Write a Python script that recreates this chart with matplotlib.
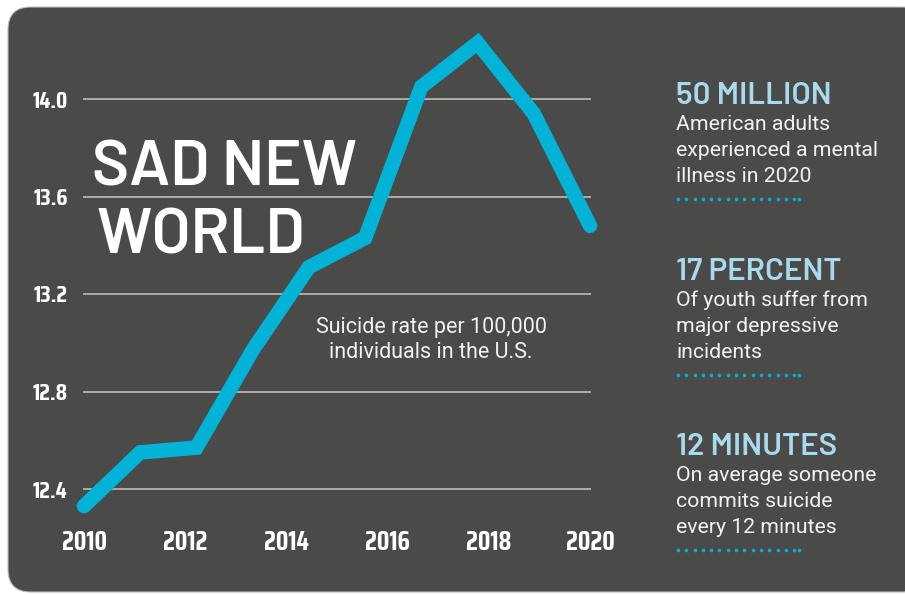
import matplotlib
matplotlib.use("Agg")
import matplotlib.pyplot as plt
import numpy as np
from matplotlib import font_manager
from matplotlib.patches import FancyBboxPatch

# ---------------- data ----------------
years = [2010, 2011, 2012, 2013, 2014, 2015, 2016, 2017, 2018, 2019]
rates = [12.33, 12.55, 12.57, 12.97, 13.31, 13.43, 14.05, 14.23, 13.94, 13.48]
xtick_labels = ["2010", "2012", "2014", "2016", "2018", "2020"]
ytick_values = [12.4, 12.8, 13.2, 13.6, 14.0]
title_lines = ["SAD NEW", "WORLD"]
annotation = ["Suicide rate per 100,000", "individuals in the U.S."]
stat_heads = ["50 MILLION", "17 PERCENT", "12 MINUTES"]
stat_bodies = [
    ["American adults", "experienced a mental", "illness in 2020"],
    ["Of youth suffer from", "major depressive", "incidents"],
    ["On average someone", "commits suicide", "every 12 minutes"],
]

# ---------------- fonts ----------------
available = {f.name for f in font_manager.fontManager.ttflist}
def pick(*names):
    for n in names:
        if n in available:
            return n
    return "DejaVu Sans"
TICKF = pick("Saira Extra Condensed", "Saira Condensed", "Barlow Condensed", "DejaVu Sans")
TITLEF = pick("Barlow", "Barlow Semi Condensed", "Barlow Condensed")
HEADF = pick("Barlow", "Barlow Semi Condensed", "Barlow Condensed")
BODY = pick("Roboto", "Inter", "DejaVu Sans")

W, H = 905, 595
BG = "#4a4a48"
CYAN = "#00b3d7"
LIGHTBLUE = "#a8d9ec"
TXT = "#f2f2f2"

fig = plt.figure(figsize=(W / 100, H / 100), dpi=100)
fig.patch.set_facecolor("white")

def fx(x):
    return x / W
def fy(y):
    return 1 - y / H

# background panel
panel = FancyBboxPatch((fx(8), fy(592)), fx(905 + 20) - fx(8), fy(7) - fy(592),
                       boxstyle="round,pad=0,rounding_size=0.025",
                       transform=fig.transFigure, facecolor=BG,
                       edgecolor="#bdbdbd", linewidth=0.8, zorder=0,
                       mutation_aspect=W / H)
fig.add_artist(panel)

# axes: x index 0..9 spans px 84..590; y 14.0 at px 99, 12.4 at px 489
ppu = (489 - 99) / 1.6
ylo, yhi = 12.3, 14.3
top_px = 99 - (yhi - 14.0) * ppu
bot_px = 489 + (12.4 - ylo) * ppu
dx = 9 / (590 - 84)
ax = fig.add_axes([fx(83), fy(bot_px), (591 - 83) / W, (bot_px - top_px) / H])
ax.set_facecolor("none")
ax.set_xlim(-dx, 9 + dx)
ax.set_ylim(ylo, yhi)
for s in ax.spines.values():
    s.set_visible(False)

for v in ytick_values:
    ax.axhline(v, color="#b4b4b4", linewidth=1.3, zorder=1)

xi = np.arange(len(years))
ax.plot(xi, rates, color=CYAN, linewidth=10.5, solid_capstyle="round",
        solid_joinstyle="miter", zorder=3, clip_on=False)

ax.set_yticks(ytick_values)
ax.set_yticklabels([f"{v:.1f}" for v in ytick_values])
ax.set_xticks(np.linspace(0, 9, len(xtick_labels)))
ax.set_xticklabels(xtick_labels)
ax.tick_params(axis="both", length=0, colors="white")
ax.tick_params(axis="y", pad=11)
ax.tick_params(axis="x", pad=12)
for lab in ax.get_yticklabels():
    lab.set_fontfamily(TICKF)
    lab.set_fontweight("bold")
    lab.set_fontsize(17)
for lab in ax.get_xticklabels():
    lab.set_fontfamily(TICKF)
    lab.set_fontweight("bold")
    lab.set_fontsize(19)

# title
fig.text(fx(92), fy(185), title_lines[0], family=TITLEF, weight="semibold",
         fontsize=45.5, color="white", va="baseline", ha="left", zorder=5)
fig.text(fx(96), fy(253), title_lines[1], family=TITLEF, weight="semibold",
         fontsize=45.5, color="white", va="baseline", ha="left", zorder=5)

# annotation
fig.text(fx(431), fy(333), annotation[0], family=BODY, fontsize=15.5,
         color=TXT, ha="center", va="baseline", zorder=5)
fig.text(fx(431), fy(358), annotation[1], family=BODY, fontsize=15.5,
         color=TXT, ha="center", va="baseline", zorder=5)

# stat blocks
head_base = [104, 280, 455]
for i in range(3):
    hb = head_base[i]
    fig.text(fx(676), fy(hb), stat_heads[i], family=HEADF, weight="semibold",
             fontsize=22.5, color=LIGHTBLUE, ha="left", va="baseline")
    for j, line in enumerate(stat_bodies[i]):
        fig.text(fx(676), fy(hb + 26 + 26 * j), line, family=BODY, fontsize=15.3,
                 color=TXT, ha="left", va="baseline")
    dy = hb + 95
    dots_x = list(np.arange(678, 796, 8.3)) + [798.5]
    fig.add_artist(plt.Line2D([fx(x) for x in dots_x], [fy(dy)] * len(dots_x),
                              transform=fig.transFigure, linestyle="none",
                              marker="o", markersize=2.6, color=CYAN,
                              markeredgewidth=0))

fig.savefig("out.png", dpi=100, facecolor="white")
